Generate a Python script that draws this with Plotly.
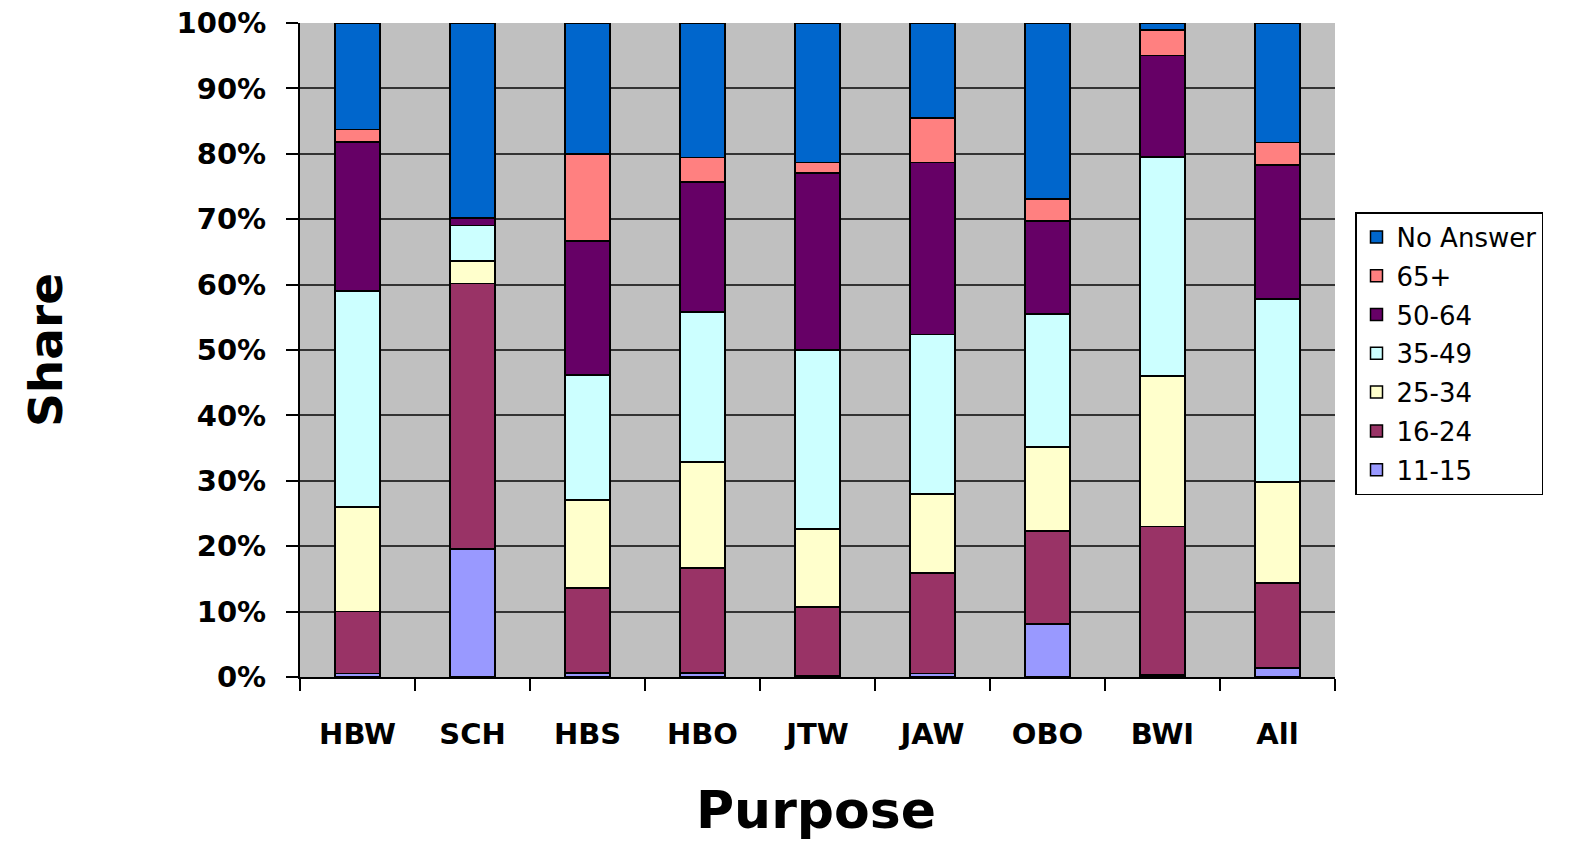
import plotly.graph_objects as go

categories = ["HBW", "SCH", "HBS", "HBO", "JTW", "JAW", "OBO", "BWI", "All"]

age_11_15 = [0.5, 19.6, 0.6, 0.6, 0.2, 0.5, 8.1, 0.3, 1.4]
age_16_24 = [9.5, 40.6, 13.0, 16.1, 10.5, 15.4, 14.2, 22.7, 13.0]
age_25_34 = [16.0, 3.4, 13.5, 16.2, 11.9, 12.1, 12.9, 23.0, 15.4]
age_35_49 = [33.0, 5.4, 19.1, 22.9, 27.4, 24.4, 20.3, 33.5, 28.0]
age_50_64 = [22.8, 1.2, 20.5, 19.9, 27.1, 26.3, 14.2, 15.5, 20.5]
age_65_plus = [1.9, 0.0, 13.3, 3.7, 1.6, 6.8, 3.4, 3.9, 3.4]
no_answer = [16.3, 29.8, 20.0, 20.6, 21.3, 14.5, 26.9, 1.1, 18.3]

series_names = ["11-15", "16-24", "25-34", "35-49", "50-64", "65+", "No Answer"]
series_values = [age_11_15, age_16_24, age_25_34, age_35_49, age_50_64, age_65_plus, no_answer]
series_colors = ["#9999FF", "#993366", "#FFFFCC", "#CCFFFF", "#660066", "#FF8080", "#0066CC"]

y_tick_values = [0, 10, 20, 30, 40, 50, 60, 70, 80, 90, 100]
y_tick_labels = ["0%", "10%", "20%", "30%", "40%", "50%", "60%", "70%", "80%", "90%", "100%"]

fig = go.Figure()
n = len(series_names)
for i, (name, vals, col) in enumerate(zip(series_names, series_values, series_colors)):
    fig.add_trace(go.Bar(
        x=categories, y=vals, name=name, legendgroup=name,
        legendrank=n - i,
        marker=dict(color=col, line=dict(color="black", width=1.5)),
        width=0.39,
    ))

bold = dict(family="DejaVu Sans", size=29, color="black", weight="bold")

L, R, T, B = 300, 236, 23, 164
pw = 1571 - L - R
ph = 841 - T - B

fig.update_layout(
    barmode="stack",
    width=1571, height=841,
    margin=dict(l=L, r=R, t=T, b=B, autoexpand=False),
    paper_bgcolor="white",
    plot_bgcolor="#C0C0C0",
    showlegend=True,
    legend=dict(
        x=(1355 - L) / pw, y=(677 - 212) / ph, xanchor="left", yanchor="top",
        traceorder="grouped", tracegroupgap=2,
        font=dict(family="DejaVu Sans", size=26, color="black"),
        bordercolor="black", borderwidth=1.5, bgcolor="white",
        itemwidth=30,
    ),
    xaxis=dict(
        type="category", automargin=False,
        tickson="boundaries",
        ticks="outside", ticklen=12, tickwidth=2, tickcolor="black",
        showline=True, linecolor="black", linewidth=2,
        tickfont=bold, showgrid=False, ticklabelstandoff=30,
    ),
    yaxis=dict(
        range=[0, 100], automargin=False,
        tickvals=y_tick_values, ticktext=y_tick_labels,
        ticklabeloverflow="allow",
        ticks="outside", ticklen=12, tickwidth=2, tickcolor="black",
        showline=True, linecolor="black", linewidth=2,
        gridcolor="#333333", gridwidth=1.5,
        tickfont=bold, zeroline=False, ticklabelstandoff=14,
    ),
    annotations=[
        dict(text="Share", x=(45 - L) / pw, y=(677 - 350) / ph, xref="paper", yref="paper",
             xanchor="center", yanchor="middle",
             showarrow=False, textangle=-90,
             font=dict(family="DejaVu Sans", size=47, color="black", weight="bold")),
        dict(text="Purpose", x=(816 - L) / pw, y=(677 - 810) / ph, xref="paper", yref="paper",
             xanchor="center", yanchor="middle",
             showarrow=False,
             font=dict(family="DejaVu Sans", size=52, color="black", weight="bold")),
    ],
)

fig.write_html("out.html", post_script="document.body.style.margin='0';",
               config={"displayModeBar": False})
